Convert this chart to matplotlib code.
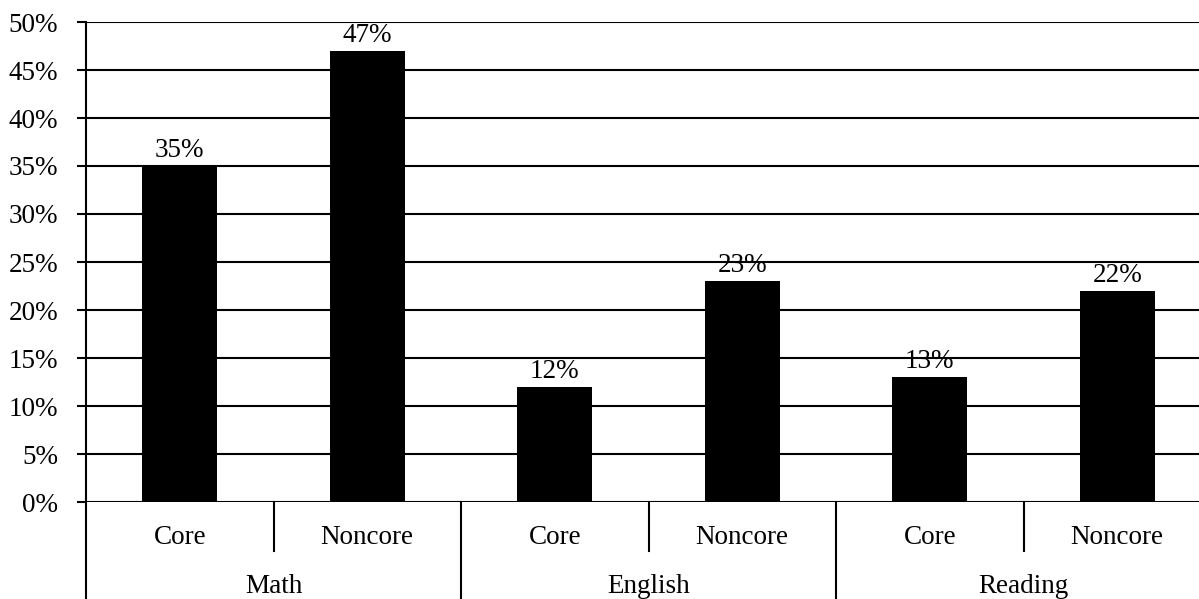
import matplotlib
matplotlib.use('Agg')
import matplotlib.pyplot as plt
from matplotlib.ticker import PercentFormatter

# Veriler
groups = ['Math', 'English', 'Reading']
sub_labels = ['Core', 'Noncore']
values = [0.35, 0.47, 0.12, 0.23, 0.13, 0.22]
value_labels = ['35%', '47%', '12%', '23%', '13%', '22%']

plt.rcParams['font.family'] = ['Liberation Serif', 'DejaVu Serif']
plt.rcParams['font.size'] = 19.5

W, H = 1199, 599
fig = plt.figure(figsize=(W / 100, H / 100), dpi=100)
# eksen sağ kenarı resmin dışına taşıyor (orijinaldeki gibi kesik)
ax = fig.add_axes([86 / W, 97 / H, 1125 / W, 480 / H])

x = list(range(len(values)))
ax.bar(x, values, width=0.4, color='black', zorder=3)
for xi, v, lab in zip(x, values, value_labels):
    ax.annotate(lab, (xi, v), xytext=(0, 2), textcoords='offset points',
                ha='center', va='bottom', zorder=4)

ax.set_xlim(-0.5, len(values) - 0.5)
ax.set_ylim(0, 0.5)
ax.set_yticks([i * 0.05 for i in range(11)])
ax.yaxis.set_major_formatter(PercentFormatter(1.0, decimals=0))
ax.yaxis.grid(True, color='black', lw=1.5, zorder=0)
ax.tick_params(axis='y', length=6.5, width=1.5, pad=13.5, color='black')
ax.tick_params(axis='x', length=0, labelbottom=False)
for s in ['top', 'right', 'bottom']:
    ax.spines[s].set_visible(False)
ax.spines['left'].set_linewidth(1.5)

tr = ax.get_xaxis_transform()
# alt kategori etiketleri ve ayırıcılar
for i, xi in enumerate(x):
    ax.text(xi, -0.075, sub_labels[i % 2], ha='center', va='center', transform=tr)
for g in range(len(groups)):
    ax.plot([2 * g + 0.5] * 2, [0, -0.102], color='black', lw=1.5, transform=tr, clip_on=False)
    ax.text(2 * g + 0.5, -0.177, groups[g], ha='center', va='center', transform=tr)
for b in [-0.5, 1.5, 3.5, 5.5]:
    ax.plot([b, b], [0, -0.21], color='black', lw=1.5, transform=tr, clip_on=False)

fig.savefig('out.png', dpi=100)
